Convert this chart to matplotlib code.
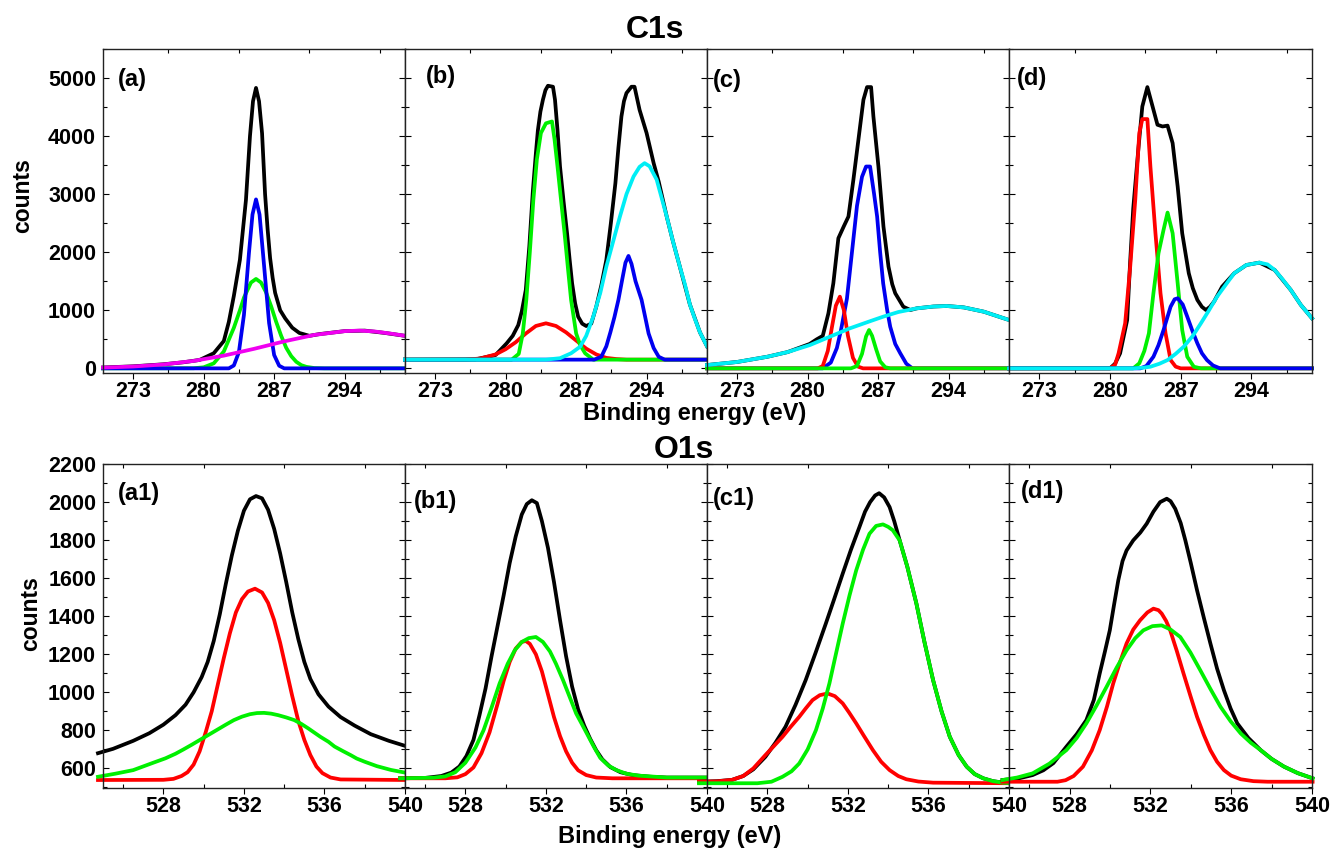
import matplotlib
matplotlib.use("Agg")
import matplotlib.pyplot as plt
from matplotlib.ticker import FixedLocator, MultipleLocator, NullFormatter

plt.rcParams['font.family'] = ['Liberation Sans', 'DejaVu Sans']
plt.rcParams['font.weight'] = 'bold'

# ---------------- C1s spectra: (binding energy eV, counts) ----------------
A_BLACK = [(270, 15), (273, 35), (276, 70), (278, 105), (279.6, 145), (281, 260), (282, 470),
           (282.5, 800), (283, 1250), (283.6, 1870), (284.2, 2900), (284.6, 4000), (284.9, 4600),
           (285.2, 4830), (285.5, 4600), (285.8, 4050), (286.1, 3000), (286.35, 2400), (286.6, 1900),
           (286.85, 1560), (287.1, 1300), (287.6, 1000), (288.1, 860), (288.8, 700), (289.5, 610),
           (290.5, 560), (291.5, 590), (294, 641), (296, 650), (298, 610), (300, 560)]
A_GREEN = [(270, 0), (279, 2), (280, 18), (281, 86), (282, 290), (283, 699), (283.6, 1000),
           (284, 1218), (284.7, 1478), (285.2, 1540), (285.7, 1478), (286.2, 1309), (286.7, 1070),
           (287.2, 802), (287.7, 560), (288.2, 354), (288.7, 210), (289.2, 113), (289.7, 55),
           (290.2, 26), (291, 5), (292, 0), (300, 0)]
A_BLUE = [(270, 0), (282.5, 0), (283, 50), (283.5, 280), (284, 920), (284.5, 1990), (284.85, 2650),
          (285.2, 2910), (285.55, 2650), (286, 1770), (286.5, 780), (287, 230), (287.5, 45),
          (288, 0), (300, 0)]
A_MAGENTA = [(270, 13), (273, 32), (276, 67), (279, 128), (282, 219), (285, 336), (288, 465),
             (291, 576), (294, 641), (295.5, 650), (297, 635), (298, 612), (299, 588), (300, 560)]

B_BLACK = [(270, 150), (277, 155), (279, 230), (280.1, 431), (280.7, 560), (281.25, 745),
           (281.6, 980), (282.0, 1350), (282.35, 2100), (282.7, 3050), (283.0, 3700), (283.2, 4100),
           (283.45, 4420), (283.7, 4626), (283.95, 4790), (284.2, 4867), (284.7, 4850),
           (284.9, 4626), (285.15, 4100), (285.4, 3476), (285.75, 2880), (286.1, 2327),
           (286.35, 1880), (286.6, 1465), (286.9, 1120), (287.2, 890), (287.6, 770), (288.0, 729),
           (288.5, 770), (289.0, 1062), (289.5, 1430), (290.0, 1867), (290.45, 2500), (290.9, 3189),
           (291.2, 3800), (291.5, 4338), (291.75, 4600), (292.0, 4741), (292.5, 4850),
           (292.8, 4850), (293.3, 4453), (294.0, 4052), (294.7, 3534), (295.2, 3217),
           (296.0, 2614), (296.6, 2200), (297.3, 1752), (298.3, 1100), (299.3, 620), (300, 380)]
B_RED = [(270, 150), (276, 150), (277.5, 170), (279, 240), (280, 330), (281, 450), (282, 600),
         (283, 730), (284, 776), (285, 730), (286, 620), (287, 480), (288, 340), (289, 240),
         (290, 180), (291, 160), (292, 150), (300, 150)]
B_GREEN = [(270, 150), (280.6, 150), (281.3, 250), (281.7, 600), (282.05, 1178), (282.4, 2000),
           (282.75, 2901), (283.1, 3600), (283.5, 4052), (284.0, 4220), (284.6, 4252),
           (284.85, 3950), (285.15, 3476), (285.5, 2900), (285.85, 2327), (286.2, 1700),
           (286.5, 1178), (287.0, 603), (287.4, 400), (287.9, 258), (288.7, 150), (300, 150)]
B_BLUE = [(270, 150), (288.8, 150), (289.5, 200), (290.0, 380), (290.4, 620), (290.8, 880),
          (291.2, 1180), (291.6, 1550), (291.9, 1820), (292.2, 1936), (292.5, 1800), (292.9, 1500),
          (293.5, 1180), (293.9, 850), (294.2, 600), (294.7, 350), (295.2, 200), (295.8, 150),
          (300, 150)]
B_CYAN = [(270, 150), (284, 150), (285.4, 175), (286.5, 260), (287.4, 373), (288.0, 560),
          (288.7, 890), (289.4, 1300), (290.0, 1752), (290.7, 2200), (291.35, 2614), (292.0, 3000),
          (292.7, 3303), (293.3, 3470), (293.8, 3534), (294.3, 3480), (295.0, 3250), (296.0, 2614),
          (296.6, 2200), (297.3, 1752), (297.8, 1450), (298.3, 1100), (298.8, 850), (299.3, 620),
          (300, 380)]

C_BLACK = [(270, 57), (273, 110), (276, 200), (278, 280), (280.2, 420), (280.9, 500), (281.5, 560),
           (282.06, 948), (282.55, 1465), (283.05, 2241), (283.6, 2450), (284.05, 2614),
           (284.54, 3246), (285.04, 3936), (285.54, 4626), (285.9, 4844), (286.3, 4844),
           (286.53, 4338), (287.03, 3476), (287.53, 2441), (288.03, 1752), (288.4, 1450),
           (288.7, 1293), (289.5, 1062), (290.2, 1005), (290.85, 1034), (292.5, 1065),
           (293.8, 1074), (295.5, 1050), (297.5, 976), (299, 890), (300, 833)]
C_CYAN = [(270, 57), (273, 110), (276, 200), (278, 280), (280.2, 400), (282, 530), (284.2, 690),
          (286, 800), (287.5, 890), (289, 970), (290.85, 1034), (292.5, 1065), (293.8, 1074),
          (295.5, 1050), (297.5, 976), (299, 890), (300, 833)]
C_RED = [(270, 0), (281.0, 0), (281.5, 40), (282.0, 300), (282.4, 700), (282.8, 1080), (283.2, 1235),
         (283.6, 1000), (284.0, 560), (284.5, 180), (285.0, 30), (285.5, 0), (300, 0)]
C_BLUE = [(270, 0), (281.5, 0), (282.3, 100), (282.9, 350), (283.3, 650), (283.9, 1200),
          (284.4, 2000), (284.9, 2800), (285.4, 3300), (285.8, 3476), (286.2, 3476), (286.6, 3000),
          (286.9, 2614), (287.2, 2000), (287.5, 1465), (287.9, 1000), (288.2, 717), (288.7, 420),
          (289.2, 259), (289.8, 80), (290.4, 0), (300, 0)]
C_GREEN = [(270, 0), (284.3, 0), (284.9, 40), (285.4, 250), (285.8, 550), (286.1, 660),
           (286.4, 560), (286.8, 330), (287.2, 120), (287.7, 20), (288.2, 0), (300, 0)]

D_BLACK = [(270, 0), (280.0, 0), (280.5, 80), (281.0, 259), (281.7, 833), (282.0, 1850),
           (282.3, 2750), (282.8, 3763), (283.2, 4510), (283.7, 4844), (284.2, 4520), (284.7, 4195),
           (285.2, 4166), (285.7, 4180), (286.2, 3879), (286.7, 3131), (287.15, 2327),
           (287.8, 1638), (288.2, 1380), (288.65, 1178), (289.1, 1060), (289.5, 1005),
           (289.9, 1060), (290.3, 1149), (291.1, 1407), (292.3, 1638), (293.5, 1780), (294.8, 1821),
           (296.3, 1695), (297.9, 1350), (298.9, 1091), (300, 862)]
D_RED = [(270, 0), (280.0, 0), (280.5, 60), (280.85, 259), (281.5, 776), (282.0, 1752),
         (282.5, 2901), (282.9, 4052), (283.2, 4293), (283.7, 4293), (284.0, 3476), (284.5, 2327),
         (285.0, 1293), (285.5, 603), (286.0, 143), (286.5, 30), (287.0, 0), (300, 0)]
D_GREEN = [(270, 0), (282.3, 0), (282.9, 86), (283.4, 300), (283.85, 603), (284.3, 1293),
           (284.8, 1982), (285.3, 2384), (285.7, 2683), (286.2, 2327), (286.7, 1465),
           (287.15, 660), (287.65, 200), (288.3, 28), (289, 0), (300, 0)]
D_BLUE = [(270, 0), (283.0, 0), (283.6, 40), (284.3, 200), (284.8, 400), (285.3, 660), (286.0, 1062),
          (286.4, 1190), (286.7, 1207), (287.2, 1100), (287.65, 890), (288.15, 650), (288.65, 431),
          (289.1, 260), (289.6, 143), (290.2, 50), (290.9, 0), (300, 0)]
D_CYAN = [(270, 0), (282.3, 0), (283.2, 10), (284.0, 28), (284.9, 80), (285.7, 143), (286.5, 250),
          (287.3, 373), (288.2, 560), (289.0, 776), (289.8, 1000), (290.6, 1235), (291.5, 1450),
          (292.3, 1638), (293.5, 1780), (294.8, 1821), (295.6, 1790), (296.3, 1695), (297.1, 1530),
          (297.9, 1350), (298.9, 1091), (300, 862)]

# ---------------- O1s spectra ----------------
A1_BLACK = [(524.75, 680), (525.5, 703), (526.5, 745), (527.3, 785), (528.0, 830), (528.6, 880),
            (529.1, 935), (529.5, 1000), (529.9, 1080), (530.2, 1160), (530.5, 1270), (530.8, 1410),
            (531.1, 1570), (531.4, 1720), (531.7, 1850), (532.0, 1955), (532.3, 2015),
            (532.6, 2032), (532.9, 2020), (533.2, 1960), (533.5, 1860), (533.8, 1730),
            (534.1, 1580), (534.4, 1420), (534.7, 1280), (535.0, 1160), (535.3, 1070),
            (535.7, 990), (536.2, 925), (536.8, 870), (537.5, 825), (538.3, 780), (539.2, 745),
            (540.05, 717)]
A1_RED = [(524.75, 539), (528.0, 540), (528.5, 545), (528.9, 560), (529.2, 580), (529.5, 620),
          (529.8, 690), (530.1, 790), (530.4, 900), (530.7, 1040), (531.0, 1180), (531.3, 1310),
          (531.6, 1420), (531.9, 1490), (532.2, 1530), (532.55, 1545), (532.9, 1525), (533.2, 1470),
          (533.5, 1380), (533.8, 1260), (534.1, 1120), (534.4, 980), (534.7, 850), (535.0, 750),
          (535.3, 670), (535.6, 610), (535.9, 575), (536.3, 552), (536.8, 542), (540.05, 539)]
A1_GREEN = [(524.75, 556), (525.6, 572), (526.5, 591), (527.5, 630), (528.1, 653), (528.6, 677),
            (529.0, 700), (529.4, 724), (529.8, 749), (530.3, 780), (530.7, 805), (531.1, 830),
            (531.5, 854), (531.9, 872), (532.3, 885), (532.65, 891), (533.0, 892), (533.35, 888),
            (533.7, 880), (534.1, 868), (534.5, 854), (534.85, 834), (535.2, 810), (535.5, 788),
            (535.8, 766), (536.2, 740), (536.5, 715), (536.9, 692), (537.3, 670), (537.6, 652),
            (538.0, 635), (538.6, 612), (539.3, 592), (540.05, 577)]

B1_BLACK = [(524.75, 548), (526.0, 550), (526.8, 560), (527.3, 578), (527.7, 610), (528.05, 665),
            (528.4, 750), (528.7, 880), (529.0, 1020), (529.3, 1190), (529.6, 1350), (529.9, 1510),
            (530.2, 1680), (530.5, 1820), (530.8, 1935), (531.05, 1990), (531.3, 2010),
            (531.55, 1995), (531.8, 1900), (532.1, 1760), (532.4, 1580), (532.7, 1380),
            (533.0, 1190), (533.3, 1030), (533.6, 910), (533.9, 825), (534.2, 755), (534.5, 695),
            (534.8, 648), (535.2, 607), (535.7, 580), (536.3, 565), (537.2, 556), (538.0, 552),
            (540.05, 552)]
B1_RED = [(524.75, 548), (527.0, 548), (527.6, 553), (528.0, 570), (528.4, 605), (528.8, 680),
          (529.2, 790), (529.6, 940), (529.9, 1060), (530.2, 1160), (530.5, 1230), (530.8, 1265),
          (531.0, 1270), (531.2, 1255), (531.5, 1200), (531.8, 1110), (532.1, 990), (532.4, 870),
          (532.7, 770), (533.0, 690), (533.3, 630), (533.6, 590), (534.0, 565), (534.5, 552),
          (535.3, 548), (540.05, 548)]
B1_GREEN = [(524.75, 548), (526.4, 551), (527.0, 558), (527.5, 580), (528.0, 630), (528.5, 710),
            (528.9, 800), (529.3, 920), (529.7, 1047), (530.1, 1150), (530.45, 1221), (530.8, 1265),
            (531.15, 1285), (531.5, 1291), (531.85, 1265), (532.2, 1215), (532.5, 1150),
            (532.85, 1064), (533.2, 970), (533.5, 889), (533.8, 830), (534.1, 770), (534.4, 710),
            (534.7, 655), (535.1, 615), (535.5, 591), (536.0, 572), (536.6, 562), (538.0, 552),
            (540.05, 552)]

C1_BLACK = [(524.6, 530), (525.5, 533), (526.25, 540), (526.8, 560), (527.3, 595), (527.9, 661),
            (528.4, 735), (528.9, 819), (529.4, 935), (529.9, 1064), (530.4, 1210), (530.9, 1361),
            (531.3, 1485), (531.74, 1624), (532.15, 1750), (532.57, 1869), (532.85, 1950),
            (533.1, 2000), (533.35, 2035), (533.55, 2047), (533.8, 2025), (534.07, 1974),
            (534.3, 1900), (534.57, 1799), (534.95, 1660), (535.4, 1467), (535.8, 1265),
            (536.23, 1064), (536.65, 900), (537.06, 766), (537.5, 670), (537.9, 609), (538.3, 570),
            (538.72, 548), (539.2, 533), (539.72, 525), (540.05, 522)]
C1_GREEN = [(524.6, 522), (527.5, 522), (528.2, 530), (528.75, 556), (529.2, 585), (529.58, 626),
            (530.0, 700), (530.41, 801), (530.75, 915), (531.08, 1047), (531.4, 1200),
            (531.74, 1361), (532.08, 1510), (532.41, 1641), (532.75, 1750), (533.07, 1834),
            (533.4, 1875), (533.74, 1883), (534.0, 1870), (534.23, 1852), (534.57, 1799),
            (534.95, 1660), (535.4, 1467), (535.8, 1265), (536.23, 1064), (536.65, 900),
            (537.06, 766), (537.5, 670), (537.9, 609), (538.3, 570), (538.72, 548), (539.2, 533),
            (539.72, 525), (540.05, 522)]
C1_RED = [(524.6, 530), (525.5, 532), (526.25, 540), (526.8, 560), (527.3, 600), (527.9, 670),
          (528.3, 715), (528.75, 766), (529.15, 818), (529.58, 871), (529.9, 915), (530.24, 959),
          (530.6, 985), (530.99, 994), (531.35, 980), (531.74, 942), (532.05, 895), (532.41, 837),
          (532.8, 770), (533.24, 696), (533.65, 635), (534.07, 591), (534.5, 560), (534.9, 543),
          (535.5, 531), (536.23, 525), (540.05, 522)]

D1_BLACK = [(524.68, 539), (525.5, 548), (526.17, 565), (526.7, 590), (527.2, 628), (527.84, 714),
            (528.35, 780), (528.83, 854), (529.2, 960), (529.49, 1099), (529.75, 1215),
            (529.99, 1326), (530.2, 1460), (530.41, 1589), (530.62, 1690), (530.82, 1746),
            (531.15, 1799), (531.5, 1840), (531.82, 1887), (532.15, 1950), (532.48, 2000),
            (532.81, 2018), (533.0, 2005), (533.23, 1965), (533.5, 1890), (533.73, 1799),
            (534.0, 1680), (534.31, 1536), (534.65, 1390), (534.97, 1257), (535.3, 1125),
            (535.64, 1011), (535.97, 915), (536.3, 837), (536.85, 760), (537.46, 696), (538.0, 650),
            (538.62, 609), (539.3, 575), (540.03, 548)]
D1_GREEN = [(524.68, 539), (525.4, 552), (526.17, 574), (527.0, 625), (527.84, 696), (528.35, 760),
            (528.83, 837), (529.33, 930), (529.83, 1029), (530.33, 1130), (530.82, 1221),
            (531.25, 1285), (531.65, 1326), (532.1, 1348), (532.56, 1352), (533.0, 1330),
            (533.48, 1291), (533.98, 1210), (534.47, 1116), (534.97, 1018), (535.47, 924),
            (535.97, 848), (536.47, 784), (536.97, 735), (537.46, 696), (538.0, 650), (538.62, 609),
            (539.3, 575), (540.03, 548)]
D1_RED = [(524.68, 530), (527.4, 530), (527.8, 538), (528.2, 560), (528.66, 609), (529.1, 695),
          (529.49, 801), (529.85, 925), (530.16, 1047), (530.5, 1160), (530.82, 1257),
          (531.15, 1330), (531.49, 1379), (531.85, 1420), (532.15, 1440), (532.4, 1432),
          (532.56, 1414), (532.78, 1375), (532.98, 1326), (533.3, 1220), (533.64, 1099),
          (534.0, 975), (534.31, 871), (534.65, 775), (534.97, 696), (535.3, 635), (535.64, 591),
          (536.0, 562), (536.47, 543), (537.1, 533), (537.8, 530), (540.03, 530)]

TOP_LABELS = ["(a)", "(b)", "(c)", "(d)"]
BOTTOM_LABELS = ["(a1)", "(b1)", "(c1)", "(d1)"]
C1S_TICKS = [273, 280, 287, 294]
O1S_TICKS = [528, 532, 536, 540]
C1S_YTICKS = [0, 1000, 2000, 3000, 4000, 5000]
O1S_YTICKS = [600, 800, 1000, 1200, 1400, 1600, 1800, 2000, 2200]

K, R, G, B, CY, MG = '#000000', '#FF0000', '#00F000', '#0000F0', '#00EEF5', '#F000F0'

top_curves = [
    [(A_BLACK, K), (A_GREEN, G), (A_BLUE, B), (A_MAGENTA, MG)],
    [(B_BLACK, K), (B_RED, R), (B_GREEN, G), (B_BLUE, B), (B_CYAN, CY)],
    [(C_BLACK, K), (C_BLUE, B), (C_RED, R), (C_GREEN, G), (C_CYAN, CY)],
    [(D_BLACK, K), (D_RED, R), (D_GREEN, G), (D_BLUE, B), (D_CYAN, CY)],
]
bottom_curves = [
    [(A1_BLACK, K), (A1_RED, R), (A1_GREEN, G)],
    [(B1_BLACK, K), (B1_RED, R), (B1_GREEN, G)],
    [(C1_BLACK, K), (C1_RED, R), (C1_GREEN, G)],
    [(D1_BLACK, K), (D1_RED, R), (D1_GREEN, G)],
]
top_label_pos = [(0.05, 0.905), (0.07, 0.914), (0.02, 0.904), (0.027, 0.91)]
bottom_label_pos = [(0.05, 0.91), (0.03, 0.883), (0.02, 0.895), (0.04, 0.914)]

W, H = 1332, 852
fig = plt.figure(figsize=(W / 100, H / 100), dpi=100)

lefts = [103, 405, 707, 1009]
widths = [302, 302, 302, 303]


def make_axes(px_left, px_width, px_top, px_bottom):
    return fig.add_axes([px_left / W, 1 - px_bottom / H, px_width / W, (px_bottom - px_top) / H])


def style(ax, first, xticks, xminor, yticks, yminor):
    ax.xaxis.set_major_locator(FixedLocator(xticks))
    ax.xaxis.set_minor_locator(MultipleLocator(xminor))
    ax.yaxis.set_major_locator(FixedLocator(yticks))
    ax.yaxis.set_minor_locator(MultipleLocator(yminor))
    ax.tick_params(axis='x', which='major', direction='out', length=4, width=0.8,
                   labelsize=15.5, pad=2, top=False)
    ax.tick_params(axis='x', which='minor', direction='in', length=3, width=0.8,
                   top=True, bottom=True)
    ax.tick_params(axis='y', which='major', direction='in', length=4, width=0.8,
                   left=True, right=True, labelsize=15.5, pad=5)
    ax.tick_params(axis='y', which='minor', direction='in', length=3, width=0.8,
                   left=True, right=True)
    if not first:
        ax.yaxis.set_major_formatter(NullFormatter())
    for lab in ax.get_xticklabels() + ax.get_yticklabels():
        lab.set_fontweight('bold')
    for sp in ax.spines.values():
        sp.set_linewidth(1.0)
        sp.set_color('#222222')


for i in range(4):
    ax = make_axes(lefts[i], widths[i], 49, 373)
    for pts, col in top_curves[i]:
        xs = [p[0] for p in pts]
        ys = [p[1] for p in pts]
        ax.plot(xs, ys, color=col, lw=2.7, solid_joinstyle='round', clip_on=False)
    ax.set_xlim(270, 300)
    ax.set_ylim(-80, 5500)
    style(ax, i == 0, C1S_TICKS, 3.5, C1S_YTICKS, 500)
    ax.text(*top_label_pos[i], TOP_LABELS[i], transform=ax.transAxes, ha='left', va='center',
            fontsize=17, fontweight='bold')

for i in range(4):
    ax = make_axes(lefts[i], widths[i], 464, 788)
    for pts, col in bottom_curves[i]:
        xs = [p[0] for p in pts]
        ys = [p[1] for p in pts]
        ax.plot(xs, ys, color=col, lw=2.7, solid_joinstyle='round', clip_on=False)
    ax.set_xlim(525, 540)
    ax.set_ylim(497, 2200.5)
    style(ax, i == 0, O1S_TICKS, 2, O1S_YTICKS, 100)
    ax.text(*bottom_label_pos[i], BOTTOM_LABELS[i], transform=ax.transAxes, ha='left',
            va='center', fontsize=17, fontweight='bold')

fig.text(655 / W, 1 - 30 / H, 'C1s', ha='center', va='center', fontsize=23, fontweight='bold')
fig.text(684 / W, 1 - 450 / H, 'O1s', ha='center', va='center', fontsize=23, fontweight='bold')
fig.text(695 / W, 1 - 413 / H, 'Binding energy (eV)', ha='center', va='center',
         fontsize=17, fontweight='bold')
fig.text(670 / W, 1 - 836 / H, 'Binding energy (eV)', ha='center', va='center',
         fontsize=17, fontweight='bold')
fig.text(23 / W, 1 - 196 / H, 'counts', ha='center', va='center', rotation=90,
         fontsize=16.5, fontweight='bold')
fig.text(31 / W, 1 - 614 / H, 'counts', ha='center', va='center', rotation=90,
         fontsize=16.5, fontweight='bold')

fig.savefig('out.png', dpi=100)
